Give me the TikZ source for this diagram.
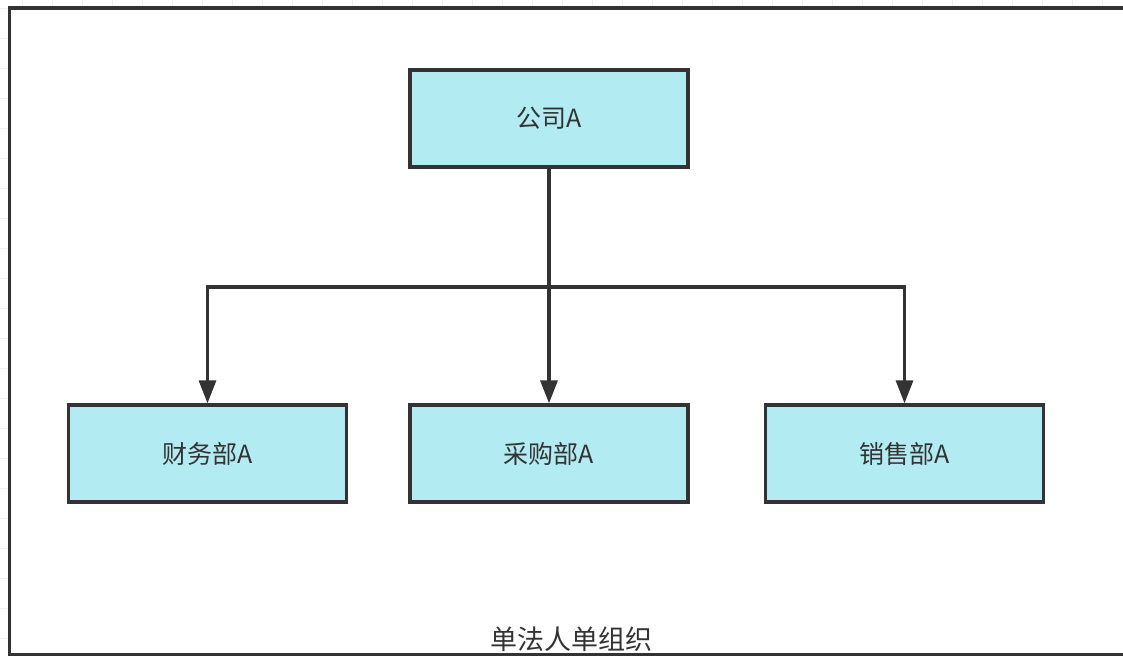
\documentclass[tikz,border=0pt]{standalone}
\usepackage{fontspec}
\newfontfamily\cjk{Noto Sans CJK SC}
\usetikzlibrary{arrows.meta}
\definecolor{boxfill}{HTML}{B2EBF2}
\definecolor{ink}{HTML}{333333}
\definecolor{gridc}{HTML}{EFEFEF}
\tikzset{
  unitbox/.style={draw=ink, fill=boxfill, line width=3.3pt, minimum width=278pt, minimum height=97pt, inner sep=0pt, text=ink, font=\cjk\fontsize{25}{29}\selectfont},
  arr/.style={draw=ink, line width=3.3pt, -{Triangle[length=23pt,width=17pt]}},
  gridline/.style={draw=gridc, line width=1pt},
  framebox/.style={draw=ink, line width=3.5pt, fill=white},
}
\begin{document}
\begin{tikzpicture}[x=1pt,y=-1pt]
\useasboundingbox (0,0) rectangle (1123,656);
\clip (0,0) rectangle (1123,656);
% background grid
\foreach \gx in {22,52,...,1122} \draw[gridline] (\gx,0) -- (\gx,656);
\foreach \gy in {8,38,...,656} \draw[gridline] (0,\gy) -- (1123,\gy);
% container frame
\draw[framebox] (9.5,8) rectangle (1140,654.5);
\node[text=ink, font=\cjk\fontsize{27}{31}\selectfont, inner sep=0pt] (title) at (571,639) {单法人单组织};
% nodes
\node[unitbox] (top) at (549,118.5) {公司A};
\node[unitbox] (fin) at (207.5,453.5) {财务部A};
\node[unitbox] (pur) at (549,453.5) {采购部A};
\node[unitbox] (sal) at (904.5,453.5) {销售部A};
\coordinate (bus) at (0,287);
% connectors
\draw[arr] (top.south) -- (top.south |- bus) -| (fin.north);
\draw[arr] (top.south) -- (pur.north);
\draw[arr] (top.south) -- (top.south |- bus) -| (sal.north);
\end{tikzpicture}
\end{document}
